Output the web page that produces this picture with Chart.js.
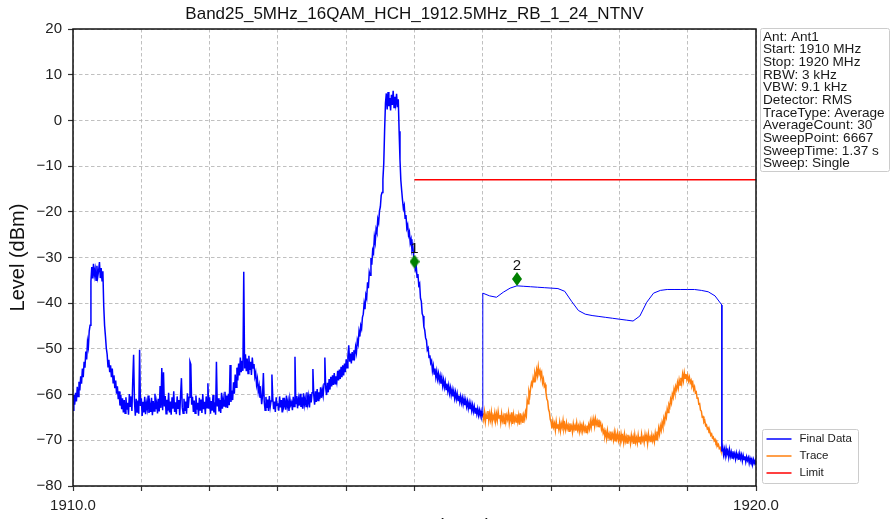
<!DOCTYPE html>
<html>
<head>
<meta charset="utf-8">
<script src="https://cdn.jsdelivr.net/npm/chart.js@4"></script>
<style>
  html, body { margin: 0; padding: 0; background: #fff; overflow: hidden; }
  #wrap { width: 891px; height: 519px; overflow: hidden; }
</style>
</head>
<body>
<div id="wrap"><canvas id="spectrum" width="891" height="539"></canvas></div>
<script>
// Sweep grid (MHz)
const sweepStep = 0.0125

// Final Data, part A: 1910.0000 .. 1916.0000 (dBm), 20 points per 0.25 MHz
const finalLevelsA = [
  -63.4, -60.1, -62.2, -59.6, -61.5, -58.3, -60.4, -57.2, -59.1, -56.0, -57.6, -54.3, -56.2, -52.8, -54.1, -50.6, -52.3, -48.4, -49.6, -46.1,
  -44.8, -35.2, -32.1, -34.6, -31.4, -33.9, -32.6, -35.0, -31.8, -34.2, -32.9, -31.0, -34.5, -32.3, -35.1, -33.0, -40.6, -44.9, -47.2, -49.8,
  -51.2, -53.9, -52.4, -55.1, -53.6, -56.2, -54.3, -57.4, -55.8, -58.6, -56.9, -59.8, -58.2, -61.0, -59.3, -62.4, -60.1, -63.2, -60.8, -63.9,
  -61.2, -64.1, -60.6, -63.3, -61.8, -64.4, -59.9, -62.7, -60.4, -63.6, -56.8, -51.3, -61.5, -64.6, -60.9, -63.8, -61.3, -64.2, -50.2, -62.5,
  -60.8, -64.7, -61.6, -63.9, -60.5, -64.3, -61.9, -63.1, -60.2, -64.0, -62.2, -63.8, -60.7, -64.5, -61.4, -63.6, -59.8, -63.2, -61.7, -64.1,
  -60.9, -63.7, -58.1, -62.9, -54.2, -63.4, -55.1, -62.6, -60.3, -64.2, -61.1, -63.5, -59.6, -63.9, -61.5, -64.4, -60.6, -63.1, -59.3, -63.8,
  -61.7, -64.3, -60.4, -63.0, -61.2, -64.5, -60.1, -56.4, -62.8, -64.1, -60.9, -63.6, -61.5, -64.2, -59.7, -62.9, -60.6, -52.8, -53.4, -62.2,
  -60.5, -63.8, -61.3, -64.1, -60.2, -63.3, -61.8, -64.6, -60.7, -63.5, -61.1, -64.0, -59.9, -63.2, -61.6, -64.3, -60.4, -62.9, -57.5, -63.1,
  -60.6, -64.2, -61.4, -63.5, -60.1, -63.9, -61.7, -64.4, -52.8, -62.6, -60.8, -63.7, -61.2, -64.0, -59.6, -63.1, -60.9, -62.5, -59.4, -62.8,
  -60.2, -62.9, -59.8, -62.3, -53.5, -61.6, -59.1, -61.2, -57.3, -59.8, -55.6, -58.4, -54.1, -56.9, -53.2, -55.8, -51.9, -55.1, -52.6, -54.8,
  -33.1, -54.3, -51.2, -54.9, -52.1, -55.4, -51.5, -54.6, -52.8, -55.7, -51.9, -54.2, -53.3, -56.1, -55.2, -57.8, -56.6, -59.3, -58.1, -60.7,
  -59.4, -62.1, -60.2, -55.3, -61.6, -63.4, -60.5, -62.9, -61.1, -63.6, -60.3, -62.7, -61.4, -55.6, -60.8, -63.2, -61.5, -63.8, -60.6, -62.4,
  -61.9, -63.5, -60.4, -62.8, -61.2, -63.9, -60.7, -62.5, -61.6, -63.3, -60.2, -62.7, -61.4, -63.6, -60.9, -62.3, -61.7, -63.4, -60.5, -62.6,
  -51.7, -62.1, -60.3, -63.0, -60.9, -62.4, -59.8, -62.7, -60.6, -63.1, -59.7, -62.2, -60.8, -62.6, -59.5, -61.9, -60.4, -62.8, -59.9, -61.7,
  -59.6, -54.4, -60.1, -62.2, -59.3, -61.6, -58.8, -61.3, -59.5, -61.0, -58.4, -60.7, -58.9, -60.2, -57.7, -51.9, -58.6, -60.1, -57.4, -59.5,
  -56.6, -58.9, -56.1, -58.2, -55.8, -57.9, -55.3, -57.6, -56.0, -57.2, -54.8, -56.9, -54.5, -56.6, -53.9, -56.2, -53.6, -55.8, -53.2, -55.1,
  -52.3, -54.1, -51.6, -49.2, -52.8, -51.0, -53.2, -50.7, -52.4, -50.3, -51.5, -49.6, -50.8, -48.1, -48.9, -46.2, -47.3, -44.9, -45.6, -43.1,
  -42.4, -40.1, -41.3, -38.2, -38.9, -35.4, -36.7, -33.2, -33.9, -30.1, -31.6, -28.4, -29.0, -25.5, -26.7, -23.8, -24.5, -21.6, -22.4, -19.8,
  -18.9, -16.4, -15.8, -12.9, -9.4, -2.1, 3.8, 5.9, 2.4, 6.2, 3.1, 4.9, 2.2, 5.6, 3.4, 6.5, 2.8, 5.2, 3.6, 5.8,
  2.9, 4.6, -2.4, -8.6, -13.1, -15.4, -17.5, -19.3, -18.6, -21.4, -20.7, -23.6, -22.9, -25.1, -24.4, -26.8, -26.0, -28.3, -27.5, -29.6,
  -30.9, -32.6, -31.8, -34.3, -33.6, -36.1, -35.7, -38.9, -39.6, -42.3, -42.8, -45.2, -45.9, -47.6, -48.1, -50.2, -49.8, -51.9, -51.4, -53.1,
  -52.6, -54.8, -53.7, -55.5, -54.3, -56.2, -54.9, -56.6, -55.4, -57.0, -55.9, -57.6, -56.3, -58.1, -56.8, -58.4, -57.2, -58.9, -57.6, -59.2,
  -58.0, -59.7, -58.5, -60.1, -58.9, -60.4, -59.2, -60.8, -59.5, -61.0, -59.8, -61.3, -60.2, -61.6, -60.4, -61.8, -60.7, -62.1, -60.9, -62.3,
  -61.2, -62.6, -61.5, -63.0, -61.8, -63.2, -62.0, -63.5, -62.3, -63.7, -62.6, -64.0, -62.9, -64.2, -63.1, -64.5, -63.4, -64.6, -63.6, -64.8,
  -64.1
]

// Final Data, part B: smooth section 1916.0 .. 1919.5
const finalFreqsB = [
  1916.0, 1916.1, 1916.2, 1916.3, 1916.4, 1916.5, 1916.6, 1916.7, 1916.8, 1916.9,
  1917.0, 1917.1, 1917.2, 1917.3, 1917.4, 1917.5, 1917.6, 1917.7, 1917.8, 1917.9,
  1918.0, 1918.1, 1918.2, 1918.3, 1918.4, 1918.5, 1918.6, 1918.7, 1918.8, 1918.9,
  1919.0, 1919.1, 1919.2, 1919.3, 1919.4, 1919.5
]
const finalLevelsB = [
  -37.8, -38.4, -38.7, -37.6, -36.7, -36.2, -36.3, -36.4, -36.5, -36.6,
  -36.7, -36.8, -37.4, -39.6, -41.6, -42.4, -42.7, -42.9, -43.1, -43.3,
  -43.5, -43.7, -43.9, -42.8, -39.8, -37.8, -37.2, -37.0, -37.0, -37.0,
  -37.0, -37.0, -37.2, -37.5, -38.4, -40.4
]

// Final Data, part C: 1919.5000 .. 1920.0000
const finalLevelsC = [
  -72.4, -71.5, -73.2, -72.0, -73.4, -71.8, -73.0, -72.3, -73.7, -72.1,
  -73.5, -72.6, -73.9, -72.4, -73.6, -72.9, -74.1, -72.8, -73.8, -73.1,
  -74.3, -72.9, -74.0, -73.2, -74.5, -73.3, -74.2, -73.5, -74.7, -73.6,
  -74.4, -73.8, -75.0, -73.9, -74.6, -74.1, -75.3, -74.2, -75.0, -74.4,
  -75.4
]

// Trace: 1916.0000 .. 1919.5000
const traceLevels = [
  -64.1, -65.4, -63.8, -65.9, -64.4, -65.2, -63.6, -65.7, -64.2, -65.5, -63.9, -66.0, -64.6, -65.3, -64.0, -65.8, -64.3, -65.6, -63.7, -65.1,
  -64.5, -66.1, -64.2, -65.7, -64.8, -66.3, -64.1, -65.9, -64.6, -65.4, -64.0, -66.2, -64.7, -65.6, -63.9, -66.4, -64.4, -65.8, -64.9, -66.0,
  -64.3, -65.9, -64.6, -66.6, -64.1, -65.7, -64.8, -66.2, -64.5, -65.4, -63.8, -64.6, -61.2, -62.0, -59.4, -60.3, -58.6, -57.4, -58.0, -56.3,
  -57.2, -55.4, -56.3, -54.6, -55.8, -53.9, -55.5, -54.8, -56.1, -55.3, -57.4, -56.6, -58.2, -57.8, -59.6, -60.9, -61.4, -63.2, -63.8, -65.4,
  -66.0, -67.4, -65.8, -67.1, -66.3, -67.8, -65.9, -67.3, -66.5, -67.6, -66.1, -67.9, -66.4, -67.2, -65.7, -67.5, -66.6, -67.7, -66.2, -67.4,
  -66.7, -68.0, -66.3, -67.5, -66.9, -68.2, -66.4, -67.6, -66.8, -67.9, -66.2, -67.7, -66.9, -68.1, -66.5, -67.4, -66.7, -68.0, -66.6, -67.8,
  -67.1, -68.3, -66.8, -67.9, -66.6, -67.5, -65.9, -67.2, -65.6, -66.8, -65.4, -66.9, -65.3, -66.5, -65.8, -67.0, -65.5, -66.7, -66.2, -67.6,
  -66.9, -68.4, -67.8, -69.1, -68.2, -69.6, -67.9, -69.3, -68.6, -69.8, -68.1, -69.5, -68.7, -69.9, -68.3, -70.1, -68.8, -69.7, -68.4, -70.0,
  -68.9, -70.3, -68.6, -69.8, -69.1, -70.5, -68.7, -70.2, -69.3, -70.6, -68.8, -69.9, -69.4, -70.7, -68.9, -70.1, -69.2, -70.8, -68.8, -70.4,
  -69.5, -70.6, -68.9, -70.3, -69.2, -70.9, -68.7, -70.0, -69.4, -70.5, -68.8, -70.2, -69.1, -70.7, -68.6, -69.9, -69.3, -70.4, -68.9, -70.1,
  -69.2, -70.3, -68.5, -69.8, -68.1, -69.2, -67.4, -68.6, -66.9, -67.8, -66.1, -67.0, -65.2, -66.1, -64.3, -65.0, -63.1, -63.9, -62.2, -62.7,
  -61.0, -61.8, -59.9, -60.6, -58.8, -59.7, -58.2, -58.9, -57.4, -58.5, -56.8, -57.9, -56.3, -57.5, -55.6, -56.9, -55.2, -56.4, -55.5, -56.7,
  -55.8, -57.0, -56.2, -57.4, -56.9, -58.1, -57.5, -58.9, -58.3, -59.6, -59.4, -60.8, -60.6, -62.1, -62.0, -63.4, -63.6, -64.9, -64.8, -66.0,
  -65.7, -66.8, -66.6, -67.5, -67.3, -68.3, -68.1, -68.9, -68.6, -69.5, -69.3, -70.1, -69.8, -70.6, -70.4, -71.2, -70.9, -71.8, -71.6, -72.3,
  -72.7
]

// Limit line
const limitFreqs = [1915.0, 1920.0]
const limitLevels = [-13, -13]

// Markers
const markerNames = ['1', '2']
const markerFreqs = [1915.0, 1916.5]
const markerLevels = [-30.9, -34.7]

// Info box
const infoLines = [
  'Ant: Ant1',
  'Start: 1910 MHz',
  'Stop: 1920 MHz',
  'RBW: 3 kHz',
  'VBW: 9.1 kHz',
  'Detector: RMS',
  'TraceType: Average',
  'AverageCount: 30',
  'SweepPoint: 6667',
  'SweepTime: 1.37 s',
  'Sweep: Single'
]

const FONT = "'Liberation Sans', Arial, sans-serif"
Chart.defaults.font.family = FONT
Chart.defaults.color = '#222'

const sweep = (start, levels) => levels.map((y, i) => ({ x: +(start + i * sweepStep).toFixed(4), y }))
const pairs = (freqs, levels) => freqs.map((x, i) => ({ x, y: levels[i] }))

// thin green diamond, like matplotlib 'd'
const diamond = document.createElement('canvas')
diamond.width = 10
diamond.height = 14
const dctx = diamond.getContext('2d')
dctx.fillStyle = '#008000'
dctx.beginPath()
dctx.moveTo(5, 0)
dctx.lineTo(10, 7)
dctx.lineTo(5, 14)
dctx.lineTo(0, 7)
dctx.closePath()
dctx.fill()

const whiteBg = {
  id: 'whiteBg',
  beforeDraw(chart) {
    const c = chart.ctx
    c.save()
    c.fillStyle = '#fff'
    c.fillRect(0, 0, chart.width, chart.height)
    c.restore()
  }
}

const frame = {
  id: 'frame',
  afterDatasetsDraw(chart) {
    const { ctx, chartArea: a } = chart
    ctx.save()
    ctx.strokeStyle = '#111'
    ctx.lineWidth = 1.5
    ctx.strokeRect(a.left, a.top, a.right - a.left, a.bottom - a.top)
    ctx.restore()
  }
}

const markerLabels = {
  id: 'markerLabels',
  afterDatasetsDraw(chart) {
    const meta = chart.getDatasetMeta(0)
    const ctx = chart.ctx
    ctx.save()
    ctx.font = '15px ' + FONT
    ctx.fillStyle = '#111'
    ctx.textAlign = 'center'
    ctx.textBaseline = 'middle'
    meta.data.forEach((pt, i) => ctx.fillText(markerNames[i], pt.x, pt.y - 13))
    ctx.restore()
  }
}

const sideBoxes = {
  id: 'sideBoxes',
  afterDraw(chart) {
    const { ctx, chartArea: a } = chart
    ctx.save()
    // info box
    ctx.fillStyle = '#fff'
    ctx.strokeStyle = '#cccccc'
    ctx.lineWidth = 1
    ctx.beginPath()
    ctx.roundRect(a.right + 4.5, a.top - 0.5, 129, 143, 2)
    ctx.fill()
    ctx.stroke()
    ctx.fillStyle = '#1a1a1a'
    ctx.font = '13.6px ' + FONT
    ctx.textBaseline = 'middle'
    infoLines.forEach((t, i) => ctx.fillText(t, a.right + 7, a.top + 7.8 + i * 12.67))

    // legend
    const items = chart.data.datasets.filter(d => d.inLegend)
    const lx = a.right + 6.5, ly = a.bottom - 56.5
    ctx.fillStyle = '#fff'
    ctx.strokeStyle = '#cccccc'
    ctx.beginPath()
    ctx.roundRect(lx, ly, 96, 54, 2)
    ctx.fill()
    ctx.stroke()
    ctx.font = '11.5px ' + FONT
    items.forEach((d, i) => {
      const y = ly + 9.5 + i * 17
      ctx.strokeStyle = d.borderColor
      ctx.lineWidth = 1.5
      ctx.beginPath()
      ctx.moveTo(lx + 4, y)
      ctx.lineTo(lx + 29, y)
      ctx.stroke()
      ctx.fillStyle = '#1a1a1a'
      ctx.fillText(d.label, lx + 37, y)
    })
    ctx.restore()
  }
}

const gridOpts = {
  color: '#b0b0b0',
  lineWidth: 0.8,
  tickLength: 5,
  tickColor: '#333',
  tickWidth: 1.2,
  tickBorderDash: []
}

// the smooth middle part of Final Data is drawn thinner than the noisy sweep
const smoothFrom = finalFreqsB[0], smoothTo = finalFreqsB[finalFreqsB.length - 1]
const finalWidth = (c) => (c.p0.parsed.x >= smoothFrom && c.p1.parsed.x <= smoothTo) ? 1 : 1.5

const chart = new Chart(document.querySelector('#spectrum').getContext('2d'), {
  type: 'line',
  data: {
    datasets: [
      {
        label: 'Markers',
        data: pairs(markerFreqs, markerLevels),
        showLine: false,
        pointStyle: diamond,
        pointRadius: 6,
        order: 0
      },
      {
        label: 'Final Data',
        inLegend: true,
        data: [
          ...sweep(1910, finalLevelsA),
          ...pairs(finalFreqsB, finalLevelsB),
          ...sweep(1919.5, finalLevelsC)
        ],
        borderColor: '#0000ff',
        borderWidth: 1.5,
        segment: { borderWidth: finalWidth },
        pointRadius: 0,
        tension: 0,
        order: 1
      },
      {
        label: 'Trace',
        inLegend: true,
        data: sweep(1916, traceLevels),
        borderColor: '#ff7f0e',
        borderWidth: 1.5,
        pointRadius: 0,
        tension: 0,
        order: 2
      },
      {
        label: 'Limit',
        inLegend: true,
        data: pairs(limitFreqs, limitLevels),
        borderColor: '#ff0000',
        borderWidth: 1.5,
        pointRadius: 0,
        order: 3
      }
    ]
  },
  options: {
    responsive: false,
    animation: false,
    events: [],
    layout: { padding: { left: 0, right: 135, top: 0, bottom: 0 } },
    plugins: {
      legend: { display: false },
      tooltip: { enabled: false },
      title: {
        display: true,
        fullSize: false,
        text: 'Band25_5MHz_16QAM_HCH_1912.5MHz_RB_1_24_NTNV',
        color: '#111',
        font: { size: 17, weight: 'normal' },
        padding: { top: 4, bottom: 4.6 }
      }
    },
    scales: {
      x: {
        type: 'linear',
        min: 1910,
        max: 1920,
        afterFit: (s) => { s.height = 53 },
        ticks: {
          stepSize: 1,
          autoSkip: false,
          maxRotation: 0,
          padding: 6,
          color: '#222',
          font: { size: 15 },
          callback: (v) => (v === 1910 || v === 1920) ? v.toFixed(1) : ''
        },
        grid: gridOpts,
        border: { display: false, dash: [3.5, 2.5] },
        title: {
          display: true,
          text: 'Frequency (MHz)',
          color: '#111',
          font: { size: 20 },
          padding: { top: 0, bottom: 0 }
        }
      },
      y: {
        min: -80,
        max: 20,
        afterFit: (s) => { s.width = 73 },
        ticks: {
          stepSize: 10,
          padding: 6,
          color: '#222',
          font: { size: 15 },
          callback: (v) => v < 0 ? '\u2212' + (-v) : String(v)
        },
        grid: gridOpts,
        border: { display: false, dash: [3.5, 2.5] },
        title: {
          display: true,
          text: 'Level (dBm)',
          color: '#111',
          font: { size: 20 },
          padding: { top: 6, bottom: 0 }
        }
      }
    }
  },
  plugins: [whiteBg, frame, markerLabels, sideBoxes]
})
</script>
</body>
</html>
